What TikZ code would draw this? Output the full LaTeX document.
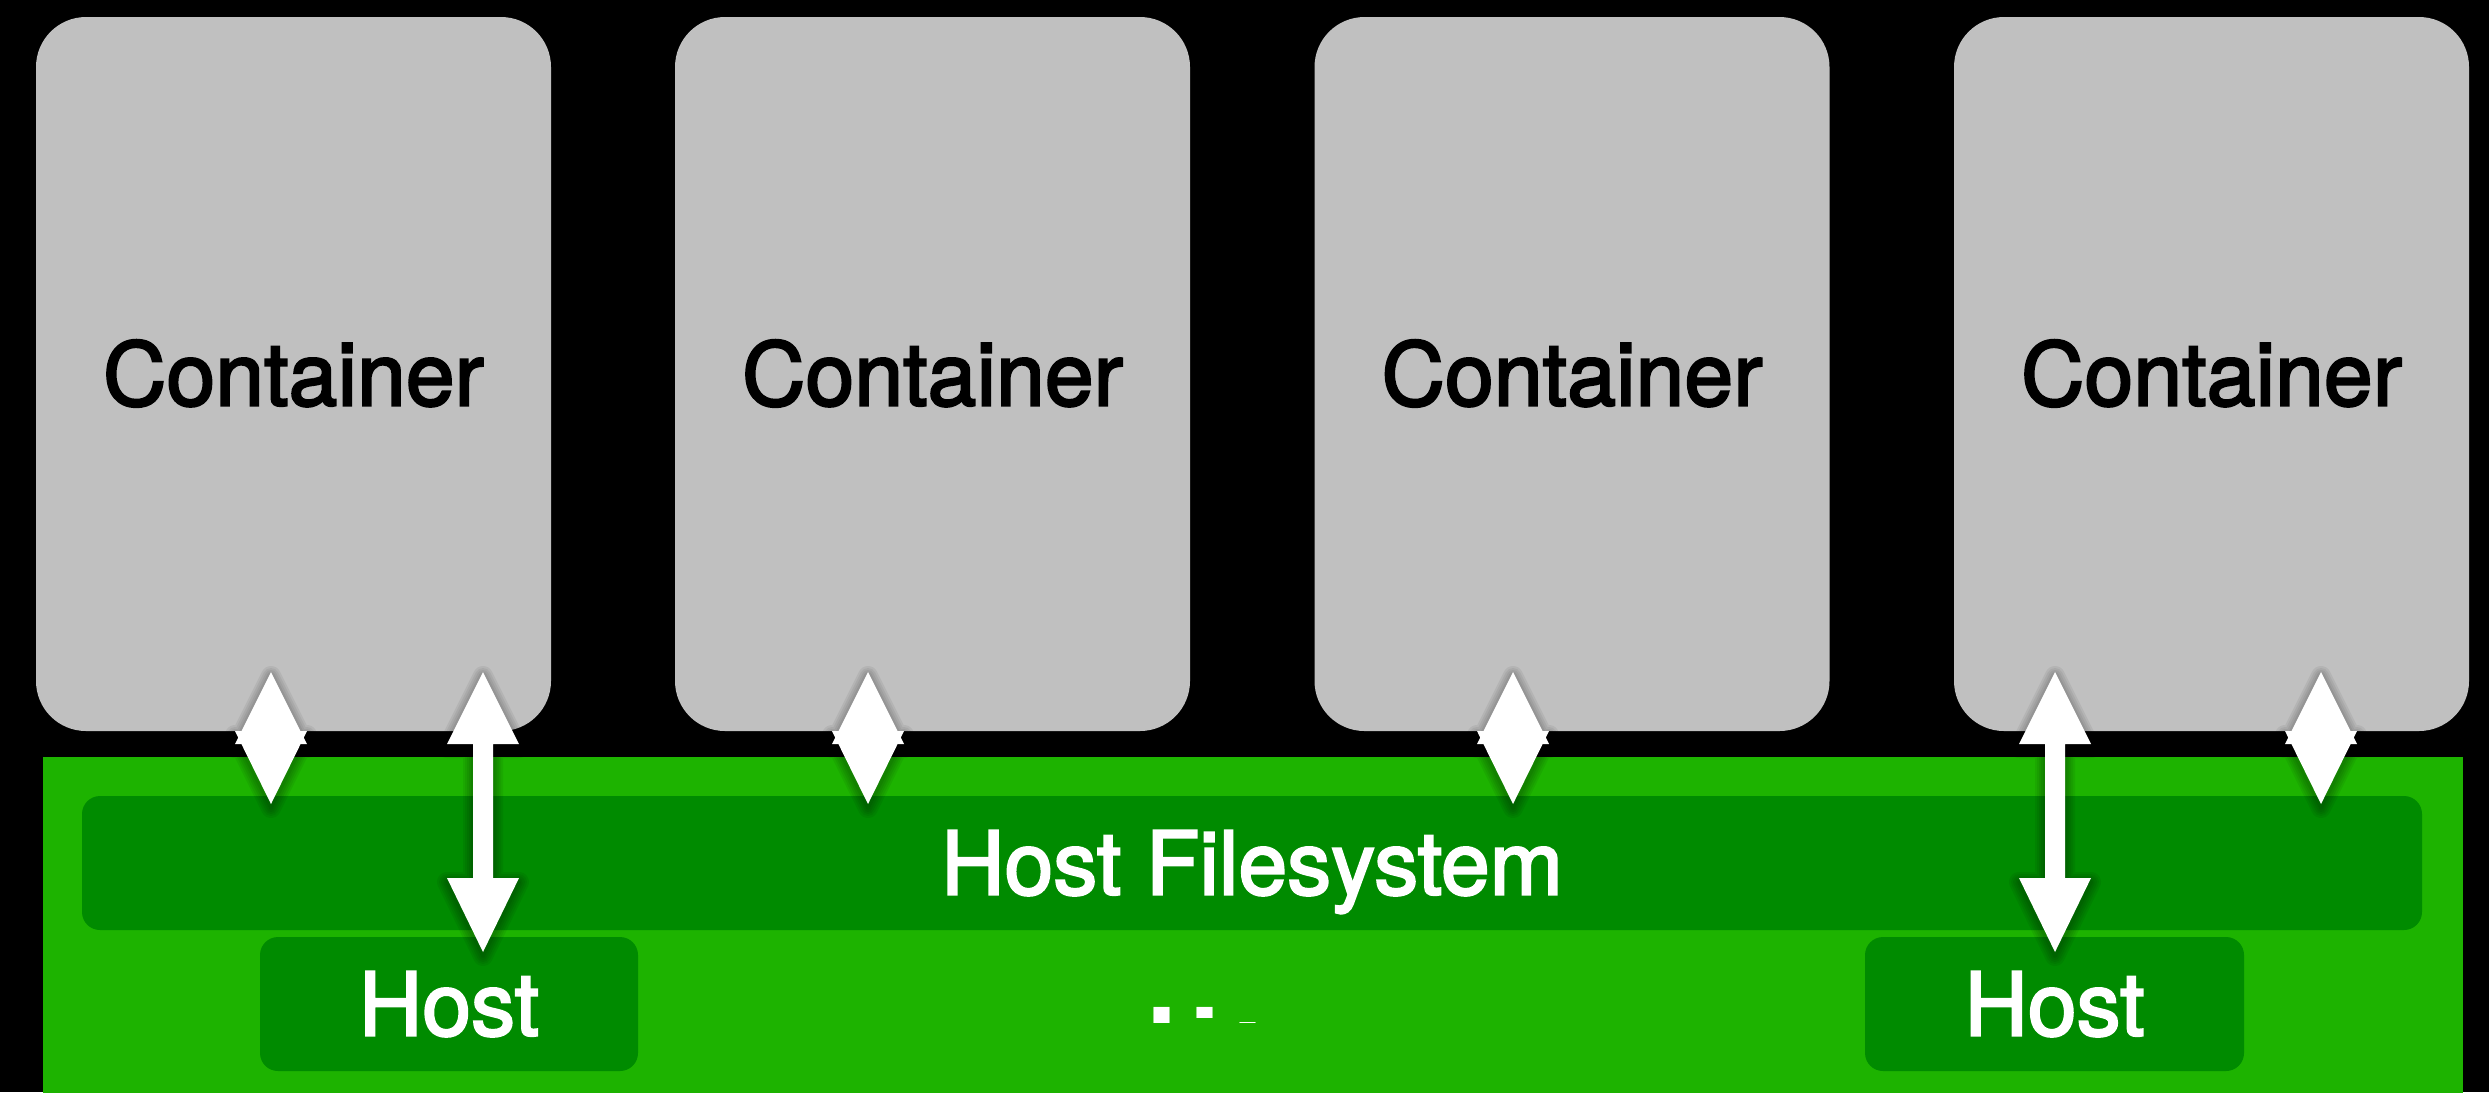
\documentclass[tikz,border=0pt]{standalone}
\usepackage{fontspec}
\setmainfont{TeX Gyre Heros}
\newfontfamily\labelface{TeX Gyre Heros}[FakeBold=2.5]
\usetikzlibrary{calc}

\definecolor{boxgrey}{HTML}{C0C0C0}
\definecolor{layergreen}{HTML}{1DB300}
\definecolor{bargreen}{HTML}{008B00}

\tikzset{
  labelfont/.style={font=\labelface\fontsize{25pt}{30pt}\selectfont, text height=17.9pt, text depth=0pt},
  container/.style={fill=boxgrey, rounded corners=5mm, minimum width=51.5mm,
    minimum height=71.4mm, inner sep=0pt, text=black, labelfont},
  layer/.style={fill=layergreen, inner sep=0pt, anchor=north west},
  bar/.style={fill=bargreen, rounded corners=1.8mm, inner sep=0pt,
    minimum height=13.4mm, text=white, labelfont},
  dotsfont/.style={font=\fontsize{44pt}{50pt}\selectfont, text=white, inner sep=0pt, anchor=base west},
  arrowbody/.style={fill=white},
  arrowhalo/.style={draw=black, draw opacity=0.06, line join=round},
}

% double-headed arrow with a shaft, from top tip #1 to bottom tip #2
\newcommand\longlink[2]{%
  \begin{scope}[transform canvas={yshift=-0.4mm}]
    \foreach \w in {0.4mm,0.8mm,1.2mm,1.6mm,2.0mm}{
      \draw[arrowhalo, line width=\w] (#1) -- ($(#1)+(36,72)$) -- ($(#1)+(10,72)$)
        -- ($(#2)+(10,-74)$) -- ($(#2)+(36,-74)$) -- (#2) -- ($(#2)+(-36,-74)$)
        -- ($(#2)+(-10,-74)$) -- ($(#1)+(-10,72)$) -- ($(#1)+(-36,72)$) -- cycle;}
  \end{scope}
  \fill[arrowbody] (#1) -- ($(#1)+(36,72)$) -- ($(#1)+(10,72)$)
    -- ($(#2)+(10,-74)$) -- ($(#2)+(36,-74)$) -- (#2) -- ($(#2)+(-36,-74)$)
    -- ($(#2)+(-10,-74)$) -- ($(#1)+(-10,72)$) -- ($(#1)+(-36,72)$) -- cycle;
}

% two arrow heads meeting back to back, from top tip #1 to bottom tip #2
\newcommand\shortlink[2]{%
  \begin{scope}[transform canvas={yshift=-0.4mm}]
    \foreach \w in {0.4mm,0.8mm,1.2mm,1.6mm,2.0mm}{
      \draw[arrowhalo, line width=\w] (#1) -- ($(#1)+(36,72)$) -- ($(#1)+(-36,72)$) -- cycle
        (#2) -- ($(#2)+(-36,-73)$) -- ($(#2)+(36,-73)$) -- cycle;}
  \end{scope}
  \fill[arrowbody] (#1) -- ($(#1)+(36,72)$) -- ($(#1)+(-36,72)$) -- cycle
    (#2) -- ($(#2)+(-36,-73)$) -- ($(#2)+(36,-73)$) -- cycle;
}

\begin{document}
\begin{tikzpicture}[x=0.1mm, y=-0.1mm]
  \useasboundingbox (0,0) rectangle (2489,1092);
  \fill[black] (0,0) rectangle (2489,1092);

  % containers
  \node[container] (c1) at (293.5,374) {Container};
  \node[container] (c2) at (932.5,374) {Container};
  \node[container] (c3) at (1572,374) {Container};
  \node[container] (c4) at (2211.5,374) {Container};

  % host layer
  \node[layer, minimum width=242mm, minimum height=34.4mm] (hosts) at (42,756) {};
  \node[bar, minimum width=234mm] (fs) at (1252,863) {Host Filesystem};
  \node[bar, minimum width=37.8mm] (h1) at (449,1004) {Host};
  \node[bar, minimum width=37.9mm] (h2) at (2054.5,1004) {Host};

  % ellipsis between the hosts
  \begin{scope}
    \clip (1145,995) rectangle (1180,1030)
          (1190,995) rectangle (1225,1017)
          (1230,1021.5) rectangle (1270,1030);
    \node[dotsfont] (more) at (1140,1023) {...};
  \end{scope}

  % connector end points
  \coordinate (a1t) at (271,672);   \coordinate (a1b) at (271,804);
  \coordinate (a2t) at (483,672);   \coordinate (a2b) at (483,952);
  \coordinate (a3t) at (868,672);   \coordinate (a3b) at (868,804);
  \coordinate (a4t) at (1513,672);  \coordinate (a4b) at (1513,804);
  \coordinate (a5t) at (2055,672);  \coordinate (a5b) at (2055,952);
  \coordinate (a6t) at (2321,672);  \coordinate (a6b) at (2321,804);

  % connectors
  \shortlink{a1t}{a1b}
  \longlink{a2t}{a2b}
  \shortlink{a3t}{a3b}
  \shortlink{a4t}{a4b}
  \longlink{a5t}{a5b}
  \shortlink{a6t}{a6b}
\end{tikzpicture}
\end{document}
